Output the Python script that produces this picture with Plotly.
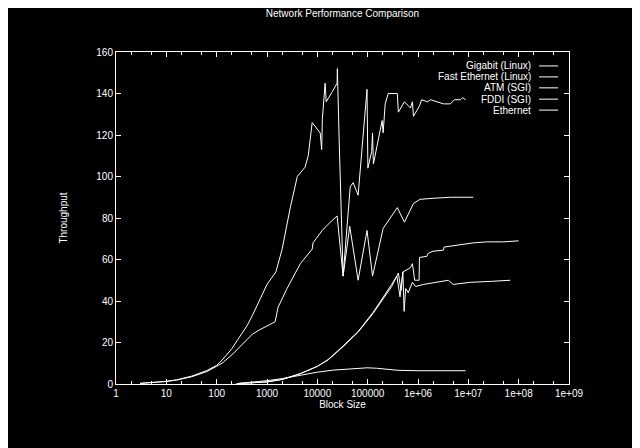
"""Network performance comparison: throughput vs. block size, gnuplot look."""

import plotly.graph_objects as go

FONT = "Liberation Sans"
FG = "white"

# --- data ---------------------------------------------------------------
gigabit_x = [3, 4, 8, 10, 16, 32, 64, 100, 128, 200, 256, 400, 512, 700, 1000,
             1500, 2000, 2900, 3500, 4000, 5700, 6300, 6600, 7900, 11400, 12200,
             12600, 14300, 15000, 20000, 24700, 25000, 26000, 27100, 32500,
             45000, 51500, 64600, 97000, 101000, 120000, 125000, 130000,
             194000, 203000, 223000, 256000, 388000, 407000, 537000, 708000,
             775000, 813000, 1.07e6, 1.18e6, 1.54e6, 1.78e6, 2.4e6, 3.2e6,
             4.4e6, 5.3e6, 7.0e6, 7.7e6, 8.8e6]
gigabit_y = [0.3, 0.5, 1.0, 1.3, 2.0, 3.8, 6.5, 9, 11.5, 17, 21, 28, 33, 40, 48,
             54, 65, 85, 93, 100, 104.5, 109, 110, 126, 121, 113,
             128, 145, 136, 141, 145, 152, 132, 118, 52,
             95, 97, 91, 142, 104, 112, 121, 106,
             127, 121, 135, 140, 140, 131, 136, 133,
             136, 129, 134, 137, 136, 137, 136, 135,
             135, 137, 137, 138, 137]

fast_x = [3, 4, 8, 10, 16, 32, 64, 100, 128, 200, 256, 400, 512, 700, 1000,
          1450, 1660, 2500, 4600, 7900, 8200, 12500, 16400, 24700, 32500,
          44000, 64600, 97000, 125000, 203000, 388000, 537000, 813000, 1.1e6,
          2.0e6, 4.4e6, 1.25e7]
fast_y = [0.3, 0.5, 1.0, 1.2, 1.9, 3.5, 6, 8.5, 10, 14, 16.5, 21, 24, 26, 28,
          30, 37, 46, 58, 65, 68, 74, 77, 81, 52,
          76, 50, 74, 52, 75, 85, 78, 87, 89,
          89.5, 90, 90]

atm_x = [250, 500, 1000, 2000, 4600, 10000, 16400, 32500, 64600, 128000,
         203000, 300000, 407000, 460000, 500000, 700000, 775000, 860000,
         1.05e6, 1.07e6, 1.5e6, 1.6e6, 2.0e6, 3.2e6, 3.3e6, 4.4e6, 7.0e6,
         1.25e7, 2.3e7, 5.0e7, 1.0e8]
atm_y = [0.2, 0.5, 1.0, 2.2, 5, 8.5, 11.6, 18, 25, 34,
         41, 47, 53.5, 45, 54, 56, 58, 50,
         50, 61, 61.5, 63, 64, 64.5, 66, 66.5, 67,
         68, 68.5, 68.5, 69]

fddi_x = [250, 500, 1000, 2000, 4600, 10000, 16400, 32500, 64600, 128000,
          203000, 300000, 380000, 440000, 500000, 530000, 570000, 640000,
          775000, 900000, 1.3e6, 2.5e6, 4.0e6, 5.0e6, 1.1e7, 3.0e7, 6.8e7]
fddi_y = [0.2, 0.5, 1.0, 2.2, 5, 8.5, 11.8, 18.3, 25.3, 34.5,
          41.5, 48, 52, 42, 54, 35, 46, 44,
          49, 47, 48, 49, 50, 48, 49, 49.5, 50]

ether_x = [250, 500, 1000, 2000, 4600, 10000, 20800, 50000, 97000, 150000,
           250000, 400000, 1.0e6, 8.8e6]
ether_y = [0.2, 0.8, 1.6, 2.6, 4.3, 5.7, 6.7, 7.5, 7.8, 7.6,
           7.1, 6.6, 6.4, 6.4]

series_names = ["Gigabit (Linux)", "Fast Ethernet (Linux)", "ATM (SGI)",
                "FDDI (SGI)", "Ethernet"]
series = [(gigabit_x, gigabit_y), (fast_x, fast_y), (atm_x, atm_y),
          (fddi_x, fddi_y), (ether_x, ether_y)]

x_tick_vals = [1, 10, 100, 1000, 10000, 100000, 1e6, 1e7, 1e8, 1e9]
x_tick_text = ["1", "10", "100", "1000", "10000", "100000",
               "1e+06", "1e+07", "1e+08", "1e+09"]

# --- figure -------------------------------------------------------------
fig = go.Figure()
for name, (xs, ys) in zip(series_names, series):
    fig.add_trace(go.Scatter(x=xs, y=ys, mode="lines", name=name,
                             line=dict(color=FG, width=1), showlegend=False))

# gnuplot-style key: right-aligned text with a line sample to its right
key_rows = [0.958, 0.925, 0.892, 0.858, 0.825]
for name, yk in zip(series_names, key_rows):
    fig.add_annotation(text=name, xref="paper", yref="paper", x=0.921, y=yk,
                       xanchor="right", yanchor="middle", showarrow=False,
                       font=dict(family=FONT, size=10, color=FG))
    fig.add_shape(type="line", xref="paper", yref="paper",
                  x0=0.934, x1=0.976, y0=yk, y1=yk,
                  line=dict(color=FG, width=1))

axis_common = dict(showline=True, linecolor=FG, linewidth=1, mirror="allticks",
                   ticks="inside", tickcolor=FG, ticklen=5, showgrid=False,
                   zeroline=False, tickfont=dict(family=FONT, size=10, color=FG))

fig.update_xaxes(type="log", range=[0, 9], tickvals=x_tick_vals,
                 ticktext=x_tick_text,
                 minor=dict(ticks="inside", ticklen=3, tickcolor=FG,
                            showgrid=False),
                 title=dict(text="Block Size", standoff=2,
                            font=dict(family=FONT, size=10, color=FG)),
                 **axis_common)
fig.update_yaxes(range=[0, 160], dtick=20,
                 title=dict(text="Throughput", standoff=26,
                            font=dict(family=FONT, size=10, color=FG)),
                 **axis_common)

# the page body adds an 8px offset, so margins are shifted to compensate
fig.update_layout(
    width=640, height=448,
    paper_bgcolor="black", plot_bgcolor="black",
    margin=dict(l=108, r=79, t=44, b=72),
    title=dict(text="Network Performance Comparison", x=0.5, xref="paper",
               y=1 - 5 / 448, yref="container", yanchor="middle",
               font=dict(family=FONT, size=10, color=FG)),
    font=dict(family=FONT, size=10, color=FG),
)

fig.write_html("out.html")
